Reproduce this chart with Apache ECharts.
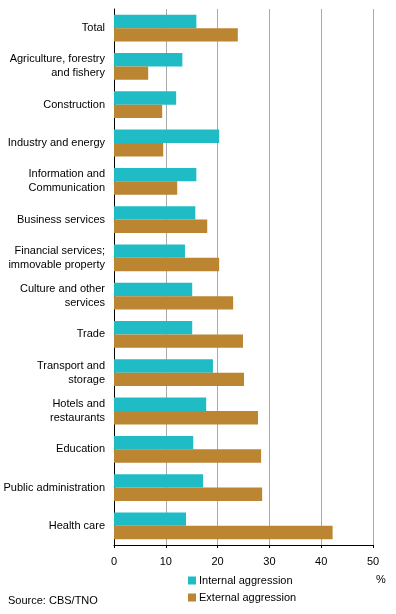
<!DOCTYPE html>
<html>
<head>
<meta charset="utf-8">
<script src="https://cdn.jsdelivr.net/npm/echarts@6/dist/echarts.min.js"></script>
<style>
  html, body { margin: 0; padding: 0; background: #fff; }
  #container { width: 396px; height: 614px; }
</style>
</head>
<body>
<div id="container"></div>
<script>
var dom = document.getElementById("container");
var myChart = echarts.init(dom);

// sectors, top to bottom
var categories = [
    'Total',
    'Agriculture, forestry\nand fishery',
    'Construction',
    'Industry and energy',
    'Information and\nCommunication',
    'Business services',
    'Financial services;\nimmovable property',
    'Culture and other\nservices',
    'Trade',
    'Transport and\nstorage',
    'Hotels and\nrestaurants',
    'Education',
    'Public administration',
    'Health care'
];
var internalAggression = [15.9, 13.2, 12.0, 20.3, 15.9, 15.7, 13.7, 15.1, 15.1, 19.1, 17.8, 15.3, 17.2, 13.9];
var externalAggression = [23.9, 6.6, 9.3, 9.5, 12.2, 18.0, 20.3, 23.0, 24.9, 25.1, 27.8, 28.4, 28.6, 42.2];
var seriesNames = ['Internal aggression', 'External aggression'];

var font = 'Arial, "Liberation Sans", sans-serif';

var option = {
    animation: false,
    textStyle: { fontFamily: font, fontSize: 11, color: '#000' },
    grid: {
        left: 114,
        right: 23,
        top: 9,
        bottom: 69
    },
    legend: {
        orient: 'vertical',
        left: 183,
        top: 570,
        itemWidth: 8,
        itemHeight: 8,
        itemGap: 6,
        icon: 'rect',
        textStyle: { fontFamily: font, fontSize: 11, color: '#000', padding: [0, 0, 0, -2] },
        data: seriesNames
    },
    xAxis: {
        type: 'value',
        min: 0,
        max: 50,
        interval: 10,
        axisLine: { show: true, lineStyle: { color: '#000', width: 1 } },
        axisTick: { show: true, length: 3, lineStyle: { color: '#000' } },
        axisLabel: { margin: 11, fontFamily: font, fontSize: 11, color: '#000' },
        splitLine: { show: true, lineStyle: { color: '#aaaaaa', width: 1 } }
    },
    yAxis: {
        type: 'category',
        inverse: true,
        data: categories,
        axisLine: { show: true, lineStyle: { color: '#000', width: 1 } },
        axisTick: { show: false },
        axisLabel: { margin: 9, fontFamily: font, fontSize: 11, color: '#000', lineHeight: 14, align: 'right' }
    },
    graphic: [
        {
            type: 'text',
            left: 376,
            top: 574,
            style: { text: '%', font: '11px ' + font, fill: '#000' }
        },
        {
            type: 'text',
            left: 8,
            top: 595,
            style: { text: 'Source: CBS/TNO', font: '11px ' + font, fill: '#000' }
        }
    ],
    series: [
        {
            name: seriesNames[0],
            type: 'bar',
            data: internalAggression,
            itemStyle: { color: '#1fbcc6' },
            barGap: '0%',
            barCategoryGap: '30%'
        },
        {
            name: seriesNames[1],
            type: 'bar',
            data: externalAggression,
            itemStyle: { color: '#bb8532' },
            barGap: '0%',
            barCategoryGap: '30%'
        }
    ]
};

myChart.setOption(option);
</script>
</body>
</html>
